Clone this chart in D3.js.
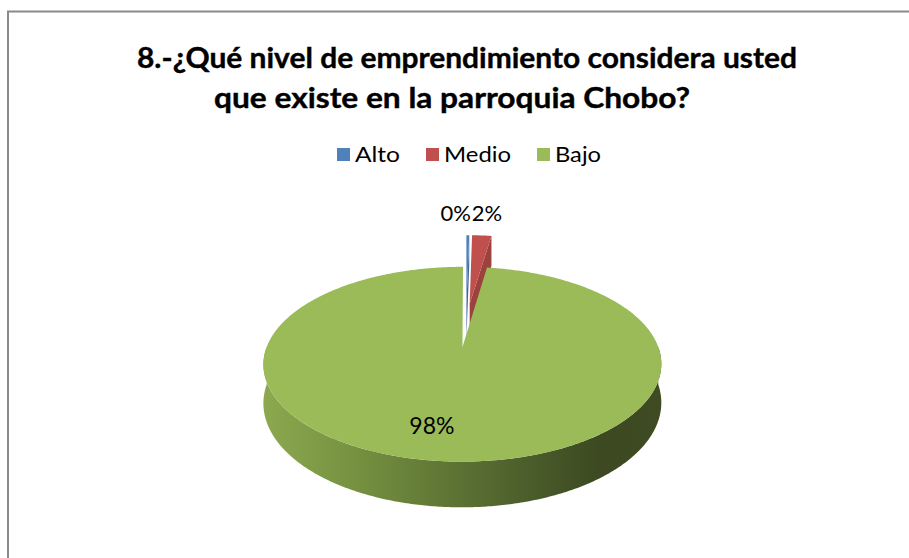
<!DOCTYPE html>
<html><head><meta charset="utf-8">
<script src="https://cdn.jsdelivr.net/npm/d3@7"></script>
<style>html,body{margin:0;padding:0;background:#fff;overflow:hidden}</style>
</head><body>
<script>
// ---- data ----
const categories = ["Alto", "Medio", "Bajo"];
const values = [0.3, 2.0, 97.7];          // percent of respondents
const colors = ["#4F81BD", "#C0504D", "#9BBB59"];
const titleLines = ["8.-¿Qué nivel de emprendimiento considera usted", "que existe en la parroquia Chobo?"];

// ---- canvas ----
const W = 909, H = 558;
const svg = d3.select("body").append("svg").attr("width", W).attr("height", H).style("display", "block");
svg.append("rect").attr("width", W).attr("height", H).attr("fill", "#fff");
svg.append("rect").attr("x", 8).attr("y", 11.5).attr("width", W + 20).attr("height", H + 20)
  .attr("fill", "#fff").attr("stroke", "#8a8a8a").attr("stroke-width", 2);

const FONT = "Lato, 'Open Sans', 'DejaVu Sans', sans-serif";

// ---- title ----
const titleLayout = [{x: 137, y: 68, w: 660}, {x: 214, y: 108, w: 476}];
svg.selectAll("text.title").data(titleLines).join("text").attr("class", "title")
  .attr("x", (d, i) => titleLayout[i].x).attr("y", (d, i) => titleLayout[i].y)
  .attr("textLength", (d, i) => titleLayout[i].w).attr("lengthAdjust", "spacingAndGlyphs")
  .attr("font-family", FONT).attr("font-weight", "bold").attr("font-size", 29).attr("fill", "#000")
  .attr("stroke", "#000").attr("stroke-width", 0.4)
  .text(d => d);

// ---- legend ----
const color = d3.scaleOrdinal().domain(categories).range(colors);
const legTextW = [45, 67, 46];
let lx = 337;
categories.forEach((c, i) => {
  svg.append("rect").attr("x", lx).attr("y", 148).attr("width", 13).attr("height", 13).attr("fill", color(c));
  svg.append("text").attr("x", lx + 18).attr("y", 162)
    .attr("textLength", legTextW[i]).attr("lengthAdjust", "spacingAndGlyphs")
    .attr("font-family", FONT).attr("font-size", 22).attr("fill", "#000").text(c);
  lx += 18 + legTextW[i] + 26;
});

// ---- 3D pie ----
const P = {cx: 466, cy: 324.4, s: 187.5, t: 86.5, k: 0.17, D: 36, e: 0.25};
function proj(X, Z, h) {
  const w = 1 + P.k * Z;
  return [P.cx + P.s * X / w, P.cy - P.t * Z / w + h * P.D / w];
}
const arcs = d3.pie().sort(null).value(d => d)(values);
arcs.forEach((a, i) => {
  a.cat = categories[i];
  a.mid = (a.startAngle + a.endAngle) / 2;
  a.ox = P.e * Math.sin(a.mid);
  a.oz = P.e * Math.cos(a.mid);
});
const rim = (a, th, h) => proj(a.ox + Math.sin(th), a.oz + Math.cos(th), h);
const ctr = (a, h) => proj(a.ox, a.oz, h);
function arcPts(a, t0, t1, h) {
  const n = Math.max(2, Math.ceil(Math.abs(t1 - t0) / 0.01));
  return d3.range(n + 1).map(j => rim(a, t0 + (t1 - t0) * j / n, h));
}
const line = d3.line();

// gradient for the green side wall
const defs = svg.append("defs");
const grad = defs.append("linearGradient").attr("id", "sideGreen")
  .attr("gradientUnits", "userSpaceOnUse").attr("x1", 263).attr("x2", 661).attr("y1", 0).attr("y2", 0);
[[0, "#8CA94F"], [0.25, "#748F3F"], [0.5, "#5B7133"], [0.72, "#465728"], [0.85, "#3C4921"], [1, "#3F4B22"]]
  .forEach(s => grad.append("stop").attr("offset", s[0]).attr("stop-color", s[1]));

const g = svg.append("g");
const order = arcs.slice().sort((a, b) => b.oz - a.oz);
order.forEach(a => {
  const c = color(a.cat);
  const sideFill = a.cat === "Bajo" ? "url(#sideGreen)" : d3.color(c).darker(0.55).formatHex();
  // radial cut faces
  if (Math.sin(a.startAngle) < -1e-6) {
    g.append("path").attr("d", line([ctr(a, 0), rim(a, a.startAngle, 0), rim(a, a.startAngle, 1), ctr(a, 1)]) + "Z")
      .attr("fill", d3.color(c).darker(0.6).formatHex());
  }
  if (Math.sin(a.endAngle) > 1e-6) {
    g.append("path").attr("d", line([ctr(a, 0), rim(a, a.endAngle, 0), rim(a, a.endAngle, 1), ctr(a, 1)]) + "Z")
      .attr("fill", d3.color(c).darker(0.6).formatHex());
  }
  // outer wall
  const lo = Math.max(a.startAngle, Math.PI / 2), hi = Math.min(a.endAngle, 3 * Math.PI / 2);
  if (lo < hi) {
    const pts = arcPts(a, lo, hi, 0).concat(arcPts(a, hi, lo, 1));
    g.append("path").attr("d", line(pts) + "Z").attr("fill", sideFill);
  }
  // top face
  const top = [ctr(a, 0)].concat(arcPts(a, a.startAngle, a.endAngle, 0));
  g.append("path").attr("d", line(top) + "Z").attr("fill", c);
});

// ---- data labels ----
const total = d3.sum(values);
const fmt = a => Math.round(a.value / total * 100) + "%";
let prevEnd = null;
arcs.forEach(a => {
  if (a.value / total < 0.1) {
    const r = rim(a, a.mid, 0);
    const t = svg.append("text").attr("y", r[1] - 14)
      .attr("font-family", FONT).attr("font-size", 22).attr("fill", "#000").text(fmt(a));
    if (prevEnd === null) {
      t.attr("x", r[0] + 3).attr("text-anchor", "end");
      prevEnd = r[0] + 3;
    } else {
      t.attr("x", prevEnd + 1).attr("text-anchor", "start");
      prevEnd = prevEnd + 1 + t.node().getComputedTextLength();
    }
  } else {
    const f = 0.74;
    const p = proj(a.ox + f * Math.sin(a.mid), a.oz + f * Math.cos(a.mid), 0);
    svg.append("text").attr("x", p[0] - 18).attr("y", p[1] + 7).attr("text-anchor", "middle")
      .attr("font-family", FONT).attr("font-size", 23).attr("fill", "#000").text(fmt(a));
  }
});
</script>
</body></html>
